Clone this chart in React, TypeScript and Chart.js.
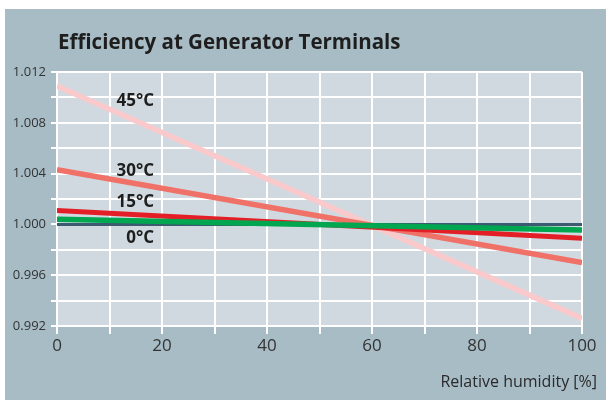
import React, { useEffect, useRef } from "react";
import { Chart, registerables } from "chart.js";

Chart.register(...registerables);

const humidity = [0, 100];
const series45 = [1.0109, 0.9926];
const series30 = [1.0043, 0.997];
const series15 = [1.0011, 0.9989];
const seriesGreen = [1.0004, 0.99955];
const series0 = [1.0, 1.0];

const seriesLabels = ["45°C", "30°C", "15°C", "0°C"];
const labelX = [18.5, 18.5, 18.5, 18.5];
const labelY = [1.0097, 1.00423, 1.00179, 0.9989];

const titleText = "Efficiency at Generator Terminals";
const xTitleText = "Relative humidity [%]";

const FONT = "'Open Sans', 'Noto Sans', sans-serif";

const toPts = (vals: number[]) => humidity.map((x, i) => ({ x, y: vals[i] }));

export default function App() {
  const ref = useRef<HTMLCanvasElement | null>(null);
  useEffect(() => {
    if (!ref.current) return;
    const decor = {
      id: "decor",
      beforeDraw(chart: any) {
        const { ctx, chartArea: a } = chart;
        ctx.save();
        ctx.fillStyle = "#d0d9df";
        ctx.fillRect(a.left, a.top, a.right - a.left, a.bottom - a.top);
        ctx.restore();
      },
      afterDraw(chart: any) {
        const { ctx } = chart;
        const xs = chart.scales.x;
        const ys = chart.scales.y;
        ctx.save();
        ctx.fillStyle = "#1e1e1e";
        ctx.font = `bold 20.5px ${FONT}`;
        ctx.textBaseline = "alphabetic";
        ctx.textAlign = "left";
        ctx.fillText(titleText, 58, 49);
        ctx.font = `bold 17px ${FONT}`;
        ctx.textAlign = "right";
        ctx.textBaseline = "middle";
        seriesLabels.forEach((t, i) => {
          ctx.fillText(t, xs.getPixelForValue(labelX[i]), ys.getPixelForValue(labelY[i]));
        });
        ctx.font = `16px ${FONT}`;
        ctx.fillStyle = "#2a2a2a";
        ctx.textAlign = "right";
        ctx.fillText(xTitleText, 597, 382);
        ctx.restore();
      },
    };
    const common = { pointRadius: 0, fill: false, clip: 0, tension: 0 };
    const chart = new Chart(ref.current, {
      type: "line",
      data: {
        datasets: [
          { ...common, label: "green", data: toPts(seriesGreen), borderColor: "#00a650", borderWidth: 5.5 },
          { ...common, label: "15°C", data: toPts(series15), borderColor: "#e41e26", borderWidth: 5 },
          { ...common, label: "0°C", data: toPts(series0), borderColor: "#3c5a70", borderWidth: 3 },
          { ...common, label: "30°C", data: toPts(series30), borderColor: "#f07167", borderWidth: 5.5 },
          { ...common, label: "45°C", data: toPts(series45), borderColor: "#f9c9cb", borderWidth: 5.5 },
        ],
      },
      options: {
        animation: false,
        responsive: false,
        layout: { padding: { left: 0, top: 72, right: 24, bottom: 0 } },
        plugins: { legend: { display: false }, tooltip: { enabled: false }, title: { display: false } },
        scales: {
          x: {
            type: "linear",
            min: 0,
            max: 100,
            grid: { color: "#ffffff", lineWidth: 2, tickLength: 8, drawTicks: true },
            border: { color: "#ffffff", width: 2 },
            ticks: {
              stepSize: 10,
              padding: 2,
              color: "#333333",
              font: { family: FONT, size: 17 },
              maxRotation: 0,
              autoSkip: false,
              callback: (v: any) => (Math.round(v) % 20 === 0 ? String(Math.round(v)) : ""),
            },
            afterFit: (s: any) => {
              s.height = 74;
            },
          },
          y: {
            type: "linear",
            min: 0.992,
            max: 1.012,
            grid: { color: "#ffffff", lineWidth: 2, tickLength: 6, drawTicks: true },
            border: { color: "#ffffff", width: 2 },
            ticks: {
              stepSize: 0.002,
              padding: 5,
              color: "#333333",
              font: { family: FONT, size: 13 },
              autoSkip: false,
              callback: (v: any) => {
                const k = Math.round((Number(v) - 0.992) / 0.002);
                return k % 2 === 0 ? Number(v).toFixed(3) : "";
              },
            },
            afterFit: (s: any) => {
              s.width = 57;
            },
          },
        },
      },
      plugins: [decor],
    } as any);
    return () => chart.destroy();
  }, []);
  return (
    <div style={{ position: "absolute", left: 0, top: 0, width: 606, height: 400 }}>
      <div style={{ position: "absolute", left: 5, top: 9, width: 601, height: 391, background: "#a8bcc6" }} />
      <canvas ref={ref} width={606} height={400} style={{ position: "absolute", left: 0, top: 0, display: "block" }} />
    </div>
  );
}
